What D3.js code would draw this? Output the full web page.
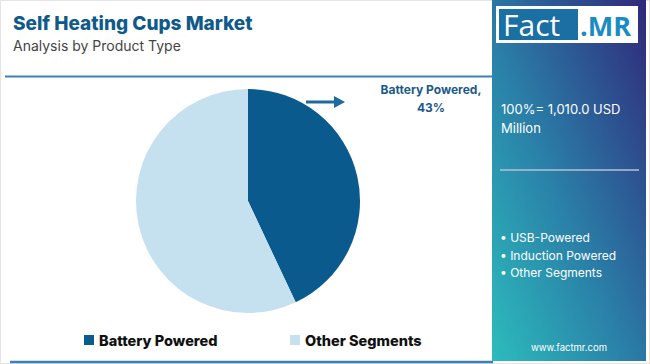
<!DOCTYPE html>
<html><head><meta charset="utf-8">
<script src="https://cdn.jsdelivr.net/npm/d3@7/dist/d3.min.js"></script>
<style>html,body{margin:0;padding:0;background:#fff;}svg{display:block;font-family:Inter,"Open Sans",sans-serif;}</style>
</head><body>
<script>
const categories = ["Battery Powered", "Other Segments"];
const shares = [43, 57];
const colors = ["#0b5a8e", "#c5e1f0"];
const otherSegments = ["USB-Powered", "Induction Powered", "Other Segments"];
const totalLabel = ["100%= 1,010.0 USD", "Million"];

const W = 650, H = 364;
const svg = d3.select("body").append("svg").attr("width", W).attr("height", H);

// outer border
svg.append("rect").attr("x",0.5).attr("y",0.5).attr("width",W-1).attr("height",H-1).attr("fill","#fff").attr("stroke","#e4e4e4");

// right panel gradient
const defs = svg.append("defs");
const g = defs.append("linearGradient").attr("id","pg").attr("x1","0").attr("y1","1").attr("x2","1").attr("y2","0");
g.append("stop").attr("offset","0%").attr("stop-color","#2cbcbc");
g.append("stop").attr("offset","45%").attr("stop-color","#2a7fa8");
g.append("stop").attr("offset","100%").attr("stop-color","#30287a");
svg.append("rect").attr("x",492).attr("y",0).attr("width",154).attr("height",361).attr("fill","url(#pg)");

// logo
svg.append("rect").attr("x",496).attr("y",6).attr("width",142).attr("height",37).attr("fill","#fff");
svg.append("rect").attr("x",499).attr("y",9).attr("width",79).attr("height",31).attr("fill","#1a6fa3");
svg.append("text").attr("x",503).attr("y",36).attr("fill","#fff").attr("font-size",30).attr("font-family","'Open Sans',sans-serif").text("Fact");
svg.append("text").attr("x",580).attr("y",36).attr("fill","#1a8cc4").attr("font-size",27).attr("font-weight",700).attr("font-family","'Open Sans',sans-serif").text(".MR");

// title
svg.append("text").attr("x",13).attr("y",30).attr("fill","#0e5a8a").attr("font-size",19).attr("font-weight",800).text("Self Heating Cups Market");
svg.append("text").attr("x",13).attr("y",51).attr("fill","#444").attr("font-size",14).text("Analysis by Product Type");

// divider lines
svg.append("line").attr("x1",5).attr("x2",493).attr("y1",76.5).attr("y2",76.5).attr("stroke","#3d82b3").attr("stroke-width",2);
svg.append("line").attr("x1",10).attr("x2",493).attr("y1",362).attr("y2",362).attr("stroke","#3d82b3").attr("stroke-width",2.5);

// pie
const cx = 248, cy = 201, r = 112;
const pie = d3.pie().sort(null).value(d => d)(shares);
const arc = d3.arc().innerRadius(0).outerRadius(r);
svg.append("g").attr("transform",`translate(${cx},${cy})`)
  .selectAll("path").data(pie).join("path")
  .attr("d", arc).attr("fill",(d,i)=>colors[i]);

// arrow
svg.append("line").attr("x1",306).attr("x2",336).attr("y1",102).attr("y2",102).attr("stroke","#1d6aa0").attr("stroke-width",3);
svg.append("path").attr("d","M334,96 L345,102 L334,108 Z").attr("fill","#1d6aa0");

// label
svg.append("text").attr("x",431).attr("y",94).attr("text-anchor","middle").attr("fill","#1a5a8a").attr("font-size",12).attr("font-weight",700).text(categories[0] + ",");
svg.append("text").attr("x",431).attr("y",112).attr("text-anchor","middle").attr("fill","#1a5a8a").attr("font-size",12).attr("font-weight",700).text(shares[0] + "%");

// right panel texts
svg.selectAll("text.tot").data(totalLabel).join("text").attr("class","tot")
  .attr("x",501).attr("y",(d,i)=>114+i*19).attr("fill","#fff").attr("font-size",13).text(d=>d);
svg.append("line").attr("x1",500).attr("x2",639).attr("y1",170).attr("y2",170).attr("stroke","#b7bfdc").attr("stroke-width",1.5);
svg.selectAll("text.seg").data(otherSegments).join("text").attr("class","seg")
  .attr("x",500).attr("y",(d,i)=>242+i*17.5).attr("fill","#fff").attr("font-size",12).text(d=>"• " + d);
svg.append("text").attr("x",569).attr("y",351).attr("text-anchor","middle").attr("fill","#fff").attr("font-size",9.5).text("www.factmr.com");

// legend
const lx = [84, 290];
const lg = svg.selectAll("g.leg").data(categories).join("g").attr("class","leg")
  .attr("transform",(d,i)=>`translate(${lx[i]},335)`);
lg.append("rect").attr("width",10).attr("height",10).attr("fill",(d,i)=>colors[i]);
lg.append("text").attr("x",15).attr("y",10.5).attr("fill","#111").attr("font-size",14.5).attr("font-weight",800).text(d=>d);
</script>
</body></html>
